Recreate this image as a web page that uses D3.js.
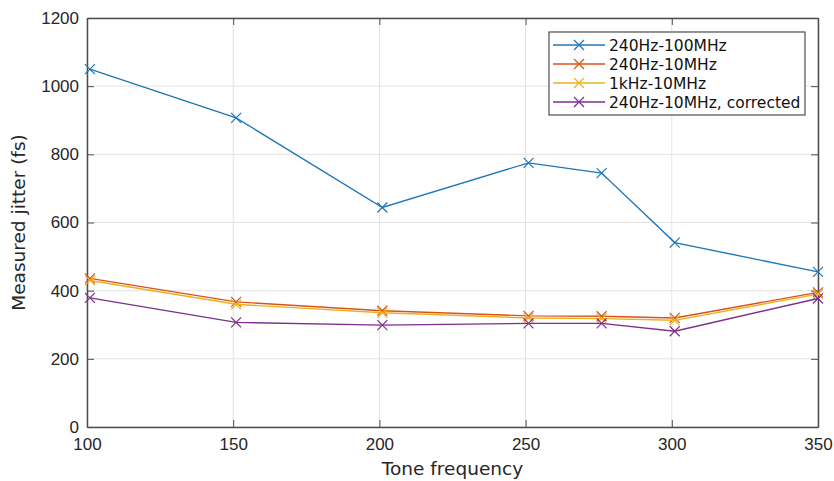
<!DOCTYPE html>
<html>
<head>
<meta charset="utf-8">
<script src="https://cdn.jsdelivr.net/npm/d3@7"></script>
<style>
  body { margin: 0; background: #fff; }
  svg { display: block; font-family: "DejaVu Sans", sans-serif; }
</style>
</head>
<body>
<div id="chart"></div>
<script>
// tone frequencies
var freqs = [101, 151, 201, 251, 276, 301, 350];
var jitterWide = [1050, 907, 644, 775, 745, 541, 455];
var jitterNarrow = [436, 367, 341, 326, 325, 320, 395];
var jitter1k = [430, 360, 335, 320, 318, 313, 390];
var jitterCorrected = [379, 307, 299, 304, 304, 281, 377];
var seriesNames = ['240Hz-100MHz', '240Hz-10MHz', '1kHz-10MHz', '240Hz-10MHz, corrected'];
var xTicks = [100, 150, 200, 250, 300, 350];
var yTicks = [0, 200, 400, 600, 800, 1000, 1200];

var W = 834, H = 481;
var margin = { top: 18, right: 16, bottom: 54, left: 87 };
var width = W - margin.left - margin.right;
var height = H - margin.top - margin.bottom;

var colors = ['#1f77b8', '#D95319', '#EDB120', '#7E2F8E'];
var allSeries = [jitterWide, jitterNarrow, jitter1k, jitterCorrected];

var svg = d3.select('#chart').append('svg')
  .attr('width', W)
  .attr('height', H)
  .append('g')
  .attr('transform', 'translate(' + margin.left + ',' + margin.top + ')');

var x = d3.scaleLinear().domain([100, 350]).range([0, width]);
var y = d3.scaleLinear().domain([0, 1200]).range([height, 0]);

// grid
svg.append('g')
  .selectAll('line.gx')
  .data(xTicks)
  .enter().append('line')
  .attr('x1', function(d) { return x(d); })
  .attr('x2', function(d) { return x(d); })
  .attr('y1', 0).attr('y2', height)
  .attr('stroke', '#e3e3e3').attr('stroke-width', 1);
svg.append('g')
  .selectAll('line.gy')
  .data(yTicks)
  .enter().append('line')
  .attr('y1', function(d) { return y(d); })
  .attr('y2', function(d) { return y(d); })
  .attr('x1', 0).attr('x2', width)
  .attr('stroke', '#e3e3e3').attr('stroke-width', 1);

// axes (ticks inward, box on)
var tickColor = '#4d4d4d';
var fmt = d3.format('d');
svg.append('g')
  .attr('transform', 'translate(0,' + height + ')')
  .call(d3.axisBottom(x).tickValues(xTicks).tickFormat(fmt).tickSizeInner(-7).tickSizeOuter(0).tickPadding(11));
svg.append('g')
  .call(d3.axisLeft(y).tickValues(yTicks).tickFormat(fmt).tickSizeInner(-7).tickSizeOuter(0).tickPadding(8));
svg.append('g')
  .call(d3.axisTop(x).tickValues(xTicks).tickSizeInner(-7).tickSizeOuter(0).tickFormat(''));
svg.append('g')
  .attr('transform', 'translate(' + width + ',0)')
  .call(d3.axisRight(y).tickValues(yTicks).tickSizeInner(-7).tickSizeOuter(0).tickFormat(''));

svg.selectAll('.domain').attr('stroke', tickColor).attr('stroke-width', 1.5);
svg.selectAll('.tick line').attr('stroke', tickColor);
svg.selectAll('.tick text').attr('fill', '#262626').style('font-size', '17px');

// axis labels
svg.append('text')
  .attr('x', width / 2)
  .attr('y', height + 48)
  .attr('text-anchor', 'middle')
  .attr('fill', '#262626')
  .style('font-size', '18.5px')
  .text('Tone frequency');
svg.append('text')
  .attr('transform', 'translate(' + (-62) + ',' + (height / 2) + ') rotate(-90)')
  .attr('text-anchor', 'middle')
  .attr('fill', '#262626')
  .style('font-size', '18.5px')
  .text('Measured jitter (fs)');

// lines + markers
var line = d3.line()
  .x(function(d) { return x(d.f); })
  .y(function(d) { return y(d.v); });

function crossPath(cx, cy, s) {
  return 'M' + (cx - s) + ',' + (cy - s) + 'L' + (cx + s) + ',' + (cy + s) +
    'M' + (cx - s) + ',' + (cy + s) + 'L' + (cx + s) + ',' + (cy - s);
}

allSeries.forEach(function(vals, i) {
  var data = freqs.map(function(f, j) { return { f: f, v: vals[j] }; });
  svg.append('path')
    .datum(data)
    .attr('fill', 'none')
    .attr('stroke', colors[i])
    .attr('stroke-width', 1.4)
    .attr('d', line);
  svg.append('g')
    .selectAll('path')
    .data(data)
    .enter().append('path')
    .attr('d', function(d) { return crossPath(x(d.f), y(d.v), 5); })
    .attr('stroke', colors[i])
    .attr('stroke-width', 1.2)
    .attr('fill', 'none');
});

// legend
var lg = svg.append('g').attr('transform', 'translate(' + (549 - margin.left) + ',' + (32 - margin.top) + ')');
lg.append('rect')
  .attr('width', 256).attr('height', 83)
  .attr('fill', '#fff')
  .attr('stroke', tickColor).attr('stroke-width', 1.2);
seriesNames.forEach(function(name, i) {
  var ly = 13 + i * 19;
  lg.append('line')
    .attr('x1', 4).attr('x2', 56)
    .attr('y1', ly).attr('y2', ly)
    .attr('stroke', colors[i]).attr('stroke-width', 1.4);
  lg.append('path')
    .attr('d', crossPath(30, ly, 5))
    .attr('stroke', colors[i]).attr('stroke-width', 1.2);
  lg.append('text')
    .attr('x', 60).attr('y', ly + 5.5)
    .attr('fill', '#111')
    .style('font-size', '15.5px')
    .text(name);
});
</script>
</body>
</html>
